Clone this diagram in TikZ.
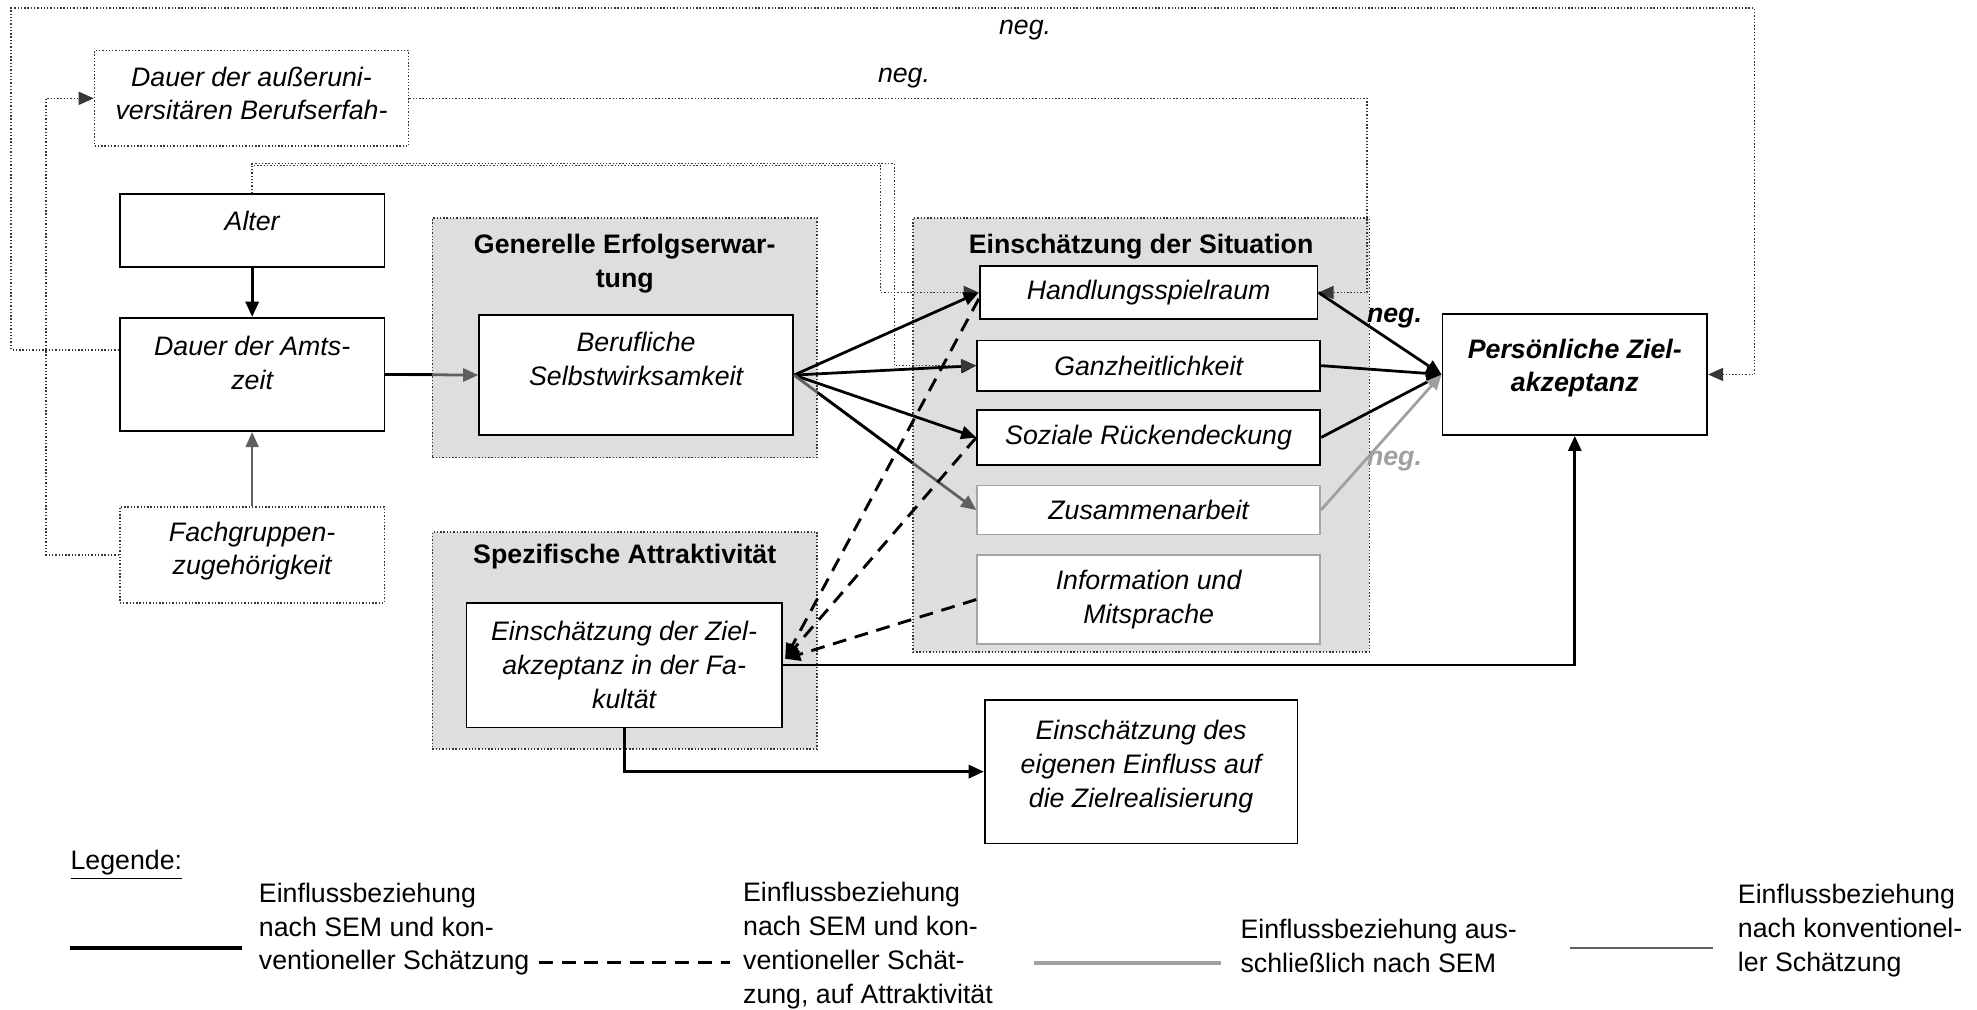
\documentclass[tikz,border=0pt]{standalone}
\usepackage{fontspec}
\setmainfont{Liberation Sans}
\usetikzlibrary{arrows.meta,calc}

\definecolor{grpfill}{RGB}{222,222,222}
\definecolor{dotline}{RGB}{55,55,55}
\definecolor{convline}{RGB}{95,95,95}
\definecolor{semline}{RGB}{160,160,160}
\definecolor{lightframe}{RGB}{165,165,165}
\newcommand\dsize{\fontsize{10.6pt}{13.4pt}\selectfont}
% extra depth below the last line, moves a text block upwards in its box
\newcommand\lift[1]{\rule[-#1]{0pt}{0pt}}

\tikzset{
  base/.style={inner sep=0pt, align=center, font=\dsize\itshape},
  solidbox/.style={base, draw=black, line width=0.7pt, fill=white},
  dotbox/.style={base, draw=dotline, line width=0.65pt, dash pattern=on 0.55pt off 0.75pt, fill=white},
  greybox/.style={base, draw=lightframe, line width=0.7pt, fill=white},
  group/.style={inner sep=0pt, fill=grpfill, draw=dotline, line width=0.55pt, dash pattern=on 0.55pt off 0.75pt},
  grouptitle/.style={inner sep=0pt, align=center, font=\dsize\bfseries},
  tip/.style={-{Triangle[length=6pt,width=5.2pt]}},
  sem/.style={tip, line width=1.1pt, black},
  semgrey/.style={tip, line width=1.1pt, semline},
  conv/.style={tip, line width=0.75pt, convline},
  convthick/.style={tip, line width=1.1pt, convline},
  attr/.style={tip, line width=1.15pt, black, dash pattern=on 5.5pt off 3.5pt},
  dotconn/.style={tip, line width=0.65pt, dotline, dash pattern=on 0.55pt off 0.75pt},
  neglabel/.style={inner sep=0pt, font=\dsize\itshape},
  legtext/.style={inner sep=0pt, align=left, anchor=west, font=\dsize},
}

\begin{document}
\begin{tikzpicture}[x=0.5pt,y=-0.5pt]
\useasboundingbox (0,0) rectangle (1568,801);

% shaded construct areas
\node[group, minimum width=152.5pt, minimum height=95pt] (gen) at (495.5,268) {};
\node[group, minimum width=152.5pt, minimum height=86pt] (spez) at (495.5,508) {};
\node[group, minimum width=181pt, minimum height=172pt] (sit) at (905,345) {};
\node[grouptitle] (gentitle) at (495.5,209) {Generelle Erfolgserwar-\\tung};
\node[grouptitle] (speztitle) at (495.5,441.5) {Spezifische Attraktivität};
\node[grouptitle] (sittitle) at (905,196) {Einschätzung der Situation};

% variables
\node[dotbox, minimum width=124.5pt, minimum height=38pt] (aussen) at (199.5,78)
  {Dauer der außeruni-\\versitären Berufserfah-\lift{4pt}};
\node[solidbox, minimum width=105pt, minimum height=29pt] (alter) at (200,183) {Alter\lift{8pt}};
\node[solidbox, minimum width=105pt, minimum height=45pt] (amts) at (200,297) {Dauer der Amts-\\zeit\lift{9pt}};
\node[dotbox, minimum width=105pt, minimum height=38pt] (fach) at (200,440) {Fachgruppen-\\zugehörigkeit\lift{5.2pt}};
\node[solidbox, minimum width=124.5pt, minimum height=47.5pt] (beruf) at (504.5,297.5)
  {Berufliche\\Selbstwirksamkeit\lift{13pt}};
\node[solidbox, minimum width=125pt, minimum height=49.5pt] (ezf) at (495,527.5)
  {Einschätzung der Ziel-\\akzeptanz in der Fa-\\kultät};
\node[solidbox, minimum width=134pt, minimum height=21pt] (hand) at (911,232) {Handlungsspielraum};
\node[solidbox, minimum width=136pt, minimum height=20pt] (ganz) at (911,290) {Ganzheitlichkeit};
\node[solidbox, minimum width=136pt, minimum height=22pt] (soz) at (911,347) {Soziale Rückendeckung};
\node[greybox, minimum width=136pt, minimum height=19.5pt] (zus) at (911,404.5) {Zusammenarbeit};
\node[greybox, minimum width=136pt, minimum height=35.5pt] (info) at (911,475.5) {Information und\\Mitsprache};
\node[solidbox, minimum width=105pt, minimum height=48pt, font=\dsize\bfseries\itshape] (pers) at (1249,297)
  {Persönliche Ziel-\\akzeptanz\lift{7.2pt}};
\node[solidbox, minimum width=124pt, minimum height=57pt] (eig) at (905,612)
  {Einschätzung des\\eigenen Einfluss auf\\die Zielrealisierung\lift{6.2pt}};

% dotted connectors
\coordinate (topleft) at (8.8,6.6);
\coordinate (topright) at (1391.6,6.6);
\draw[dotconn] ($(amts.north west)!0.285!(amts.south west)$) -| (topleft) -- (topright) |- (pers.east);
\node[neglabel] (neg1) at (813,24) {neg.};

\draw[dotconn] (fach.west) -| ($(aussen.west)+(-38,0)$) -- (aussen.west);

\draw[dotconn] (aussen.east) -| ($(hand.east)+(38.5,0)$) -- (hand.east);
\node[neglabel] (neg2) at (717,62) {neg.};

\draw[dotconn] (alter.north) -- ++(0,-22) -| ($(hand.west)+(-78,0)$) -- (hand.west);

% influences of the background variables
\draw[sem] (alter.south) -- (amts.north);
\draw[conv] (fach.north) -- (amts.south);
\draw[convthick] (amts.east) -- (beruf.west);
\draw[line width=1.1pt] (amts.east) -- (gen.west |- amts.east);

% general expectation of success -> situation
\draw[sem] (beruf.east) -- (hand.west);
\draw[sem] (beruf.east) -- (ganz.west);
\draw[sem] (beruf.east) -- (soz.west);
\draw[convthick] (beruf.east) -- (zus.west);
\draw[line width=1.1pt] ($(beruf.east)!0.13!(zus.west)$) -- ($(beruf.east)!0.651!(zus.west)$);

\draw[dotconn] (alter.north) -- ++(0,-23.5) -| ($(ganz.west)+(-65,0)$) -- (ganz.west);

% situation -> personal acceptance
\draw[sem] (hand.east) -- (pers.west);
\node[neglabel, font=\dsize\bfseries\itshape] (neg3) at (1106,252) {neg.};
\draw[sem] (ganz.east) -- (pers.west);
\draw[sem] (soz.east) -- (pers.west);
\draw[semgrey] (zus.east) -- (pers.west);
\node[neglabel, font=\dsize\bfseries\itshape, text=semline] (neg4) at (1106,366) {neg.};

% effects on attractiveness
\draw[attr] ($(hand.west)+(0,5)$) -- ($(ezf.east)+(2,-5)$);
\draw[attr] (soz.west) -- ($(ezf.east)+(2,-5)$);
\draw[attr] (info.west) -- ($(ezf.east)+(2,-5)$);

\draw[sem] (ezf.east) -| (pers.south);
\draw[sem] (ezf.south) |- (eig.west);

% legend
\node[legtext] (leghead) at (55.6,686) {\underline{Legende:}};
\draw[line width=1.6pt] (55.6,752) -- (192,752);
\node[legtext] (leg1) at (205,737) {Einflussbeziehung\\nach SEM und kon-\\ventioneller Schätzung};
\draw[line width=1.2pt, dash pattern=on 5.5pt off 3.5pt] (427.5,763.5) -- (579,763.5);
\node[legtext] (leg2) at (589,750) {Einflussbeziehung\\nach SEM und kon-\\ventioneller Schät-\\zung, auf Attraktivität};
\draw[line width=1.6pt, semline] (820,764) -- (968,764);
\node[legtext] (leg3) at (983.5,750) {Einflussbeziehung aus-\\schließlich nach SEM};
\draw[line width=0.8pt, convline] (1245,752) -- (1358.6,752);
\node[legtext] (leg4) at (1378,738) {Einflussbeziehung\\nach konventionel-\\ler Schätzung};
\end{tikzpicture}
\end{document}
